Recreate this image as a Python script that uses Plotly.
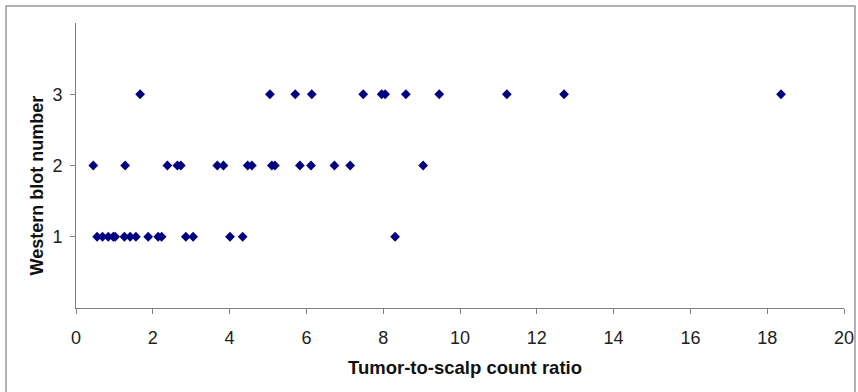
import plotly.graph_objects as go

# Tumor-to-scalp count ratio values grouped by Western blot number
ratio_wb1 = [0.55, 0.69, 0.84, 0.97, 1.02, 1.26, 1.41, 1.56, 1.88, 2.14, 2.23, 2.86, 3.05, 4.01, 4.34, 8.31]
ratio_wb2 = [0.45, 1.28, 2.38, 2.64, 2.73, 3.68, 3.84, 4.47, 4.58, 5.10, 5.18, 5.83, 6.12, 6.73, 7.14, 9.04]
ratio_wb3 = [1.67, 5.05, 5.71, 6.14, 7.48, 7.96, 8.05, 8.59, 9.46, 11.22, 12.71, 18.36]

x_ticks = [0, 2, 4, 6, 8, 10, 12, 14, 16, 18, 20]
y_ticks = [1, 2, 3]

x_title = "Tumor-to-scalp count ratio"
y_title = "Western blot number"

xs = ratio_wb1 + ratio_wb2 + ratio_wb3
ys = [1] * len(ratio_wb1) + [2] * len(ratio_wb2) + [3] * len(ratio_wb3)

fig = go.Figure()
fig.add_trace(go.Scatter(
    x=xs, y=ys, mode="markers",
    marker=dict(symbol="diamond", size=7.5, color="#000080", line=dict(width=0)),
    showlegend=False, hoverinfo="x+y",
))

axis_font = dict(family="Liberation Sans, Arial, sans-serif", size=18, color="#222222")
title_font = dict(family="Liberation Sans, Arial, sans-serif", size=18.5, color="#111111")
ytitle_font = dict(family="Liberation Sans, Arial, sans-serif", size=18, color="#111111")

fig.update_layout(
    width=858, height=392,
    margin=dict(l=76, r=14, t=23, b=84, autoexpand=False),
    paper_bgcolor="white", plot_bgcolor="white",
    xaxis=dict(
        range=[0, 20], tickvals=x_ticks, ticktext=[str(v) for v in x_ticks],
        showgrid=False, zeroline=False, showline=True, linecolor="#808080", linewidth=1,
        ticks="outside", ticklen=5, tickcolor="#808080", tickfont=axis_font, automargin=False,
        ticklabelstandoff=8,
    ),
    yaxis=dict(
        range=[0, 4], tickvals=y_ticks, ticktext=[str(v) for v in y_ticks],
        showgrid=False, zeroline=False, showline=True, linecolor="#808080", linewidth=1,
        ticks="outside", ticklen=5, tickcolor="#808080", tickfont=axis_font, automargin=False,
        ticklabelstandoff=4,
    ),
    annotations=[
        dict(text="<b>" + x_title + "</b>", xref="paper", yref="paper", x=0.5065, y=-0.2105,
             xanchor="center", yanchor="middle", showarrow=False, font=title_font),
        dict(text="<b>" + y_title + "</b>", xref="paper", yref="paper", x=-0.0508, y=0.43,
             xanchor="center", yanchor="middle", textangle=-90, showarrow=False, font=ytitle_font),
    ],
    shapes=[dict(type="rect", xref="paper", yref="paper", x0=-0.0911, x1=1.0143, y0=-0.31, y1=1.0596,
                 line=dict(color="#999999", width=1.5), fillcolor="rgba(0,0,0,0)")],
)

fig.write_html(
    "out.html",
    config={"displayModeBar": False},
    post_script="document.body.style.margin='0';document.body.style.padding='0';",
)
